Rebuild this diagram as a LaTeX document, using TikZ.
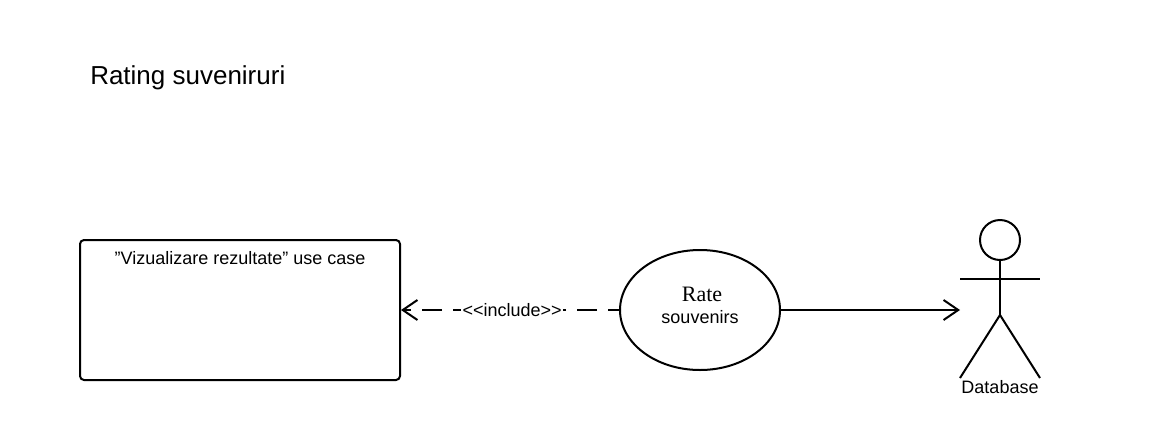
\documentclass[tikz,border=0pt]{standalone}
\usepackage{fontspec}
\setmainfont{Liberation Sans}
\newfontfamily\serifname{Liberation Serif}
\usetikzlibrary{arrows.meta,positioning,shapes.geometric}
\tikzset{
  line/.style={line width=1.5pt, black},
  txt/.style={inner sep=0pt, font=\fontsize{13.5}{16}\selectfont},
  open/.style={-{Straight Barb[length=11pt,width=15pt,line width=1.5pt]}}
}

\begin{document}
\begin{tikzpicture}[x=0.75pt,y=-0.75pt]
  \useasboundingbox (0,0) rectangle (1160,440);
  \node[inner sep=0pt, anchor=west, font=\fontsize{19.5}{22}\selectfont] (title) at (90,78) {Rating suveniruri};
  % box on the left
  \node[line, draw, rounded corners=3pt, minimum width=240pt, minimum height=105pt, inner sep=0pt] (box) at (240,310) {};
  \node[txt] (boxtext) at (240,258) {"Vizualizare rezultate" use case};
  % use case
  \node[line, draw, ellipse, minimum width=120pt, minimum height=90pt, inner sep=0pt] (rate) at (700,310) {};
  \node[inner sep=0pt, font=\fontsize{16.5}{18}\serifname] (ratetop) at (702,294) {Rate};
  \node[txt] (ratelow) at (700,317) {souvenirs};
  % actor
  \draw[line] (1000,240) circle (20);
  \coordinate (neck) at (1000,260);
  \coordinate (hip) at (1000,315);
  \coordinate (hand) at (960,310);
  \draw[line] (neck) -- (hip);
  \draw[line] (960,279) -- (1040,279);
  \draw[line] (960,378) -- (hip) -- (1040,378);
  \node[txt] (actor) at (1000,387) {Database};
  % connectors
  \draw[line, open] (rate) -- (hand);
  \draw[line, open, dash pattern=on 15pt off 8.25pt, dash phase=6.75pt] (rate) -- (box)
    node[pos=0.49, fill=white, inner sep=1pt, font=\fontsize{13.5}{16}\selectfont] (incl) {<{}<include>{}>};
\end{tikzpicture}
\end{document}
